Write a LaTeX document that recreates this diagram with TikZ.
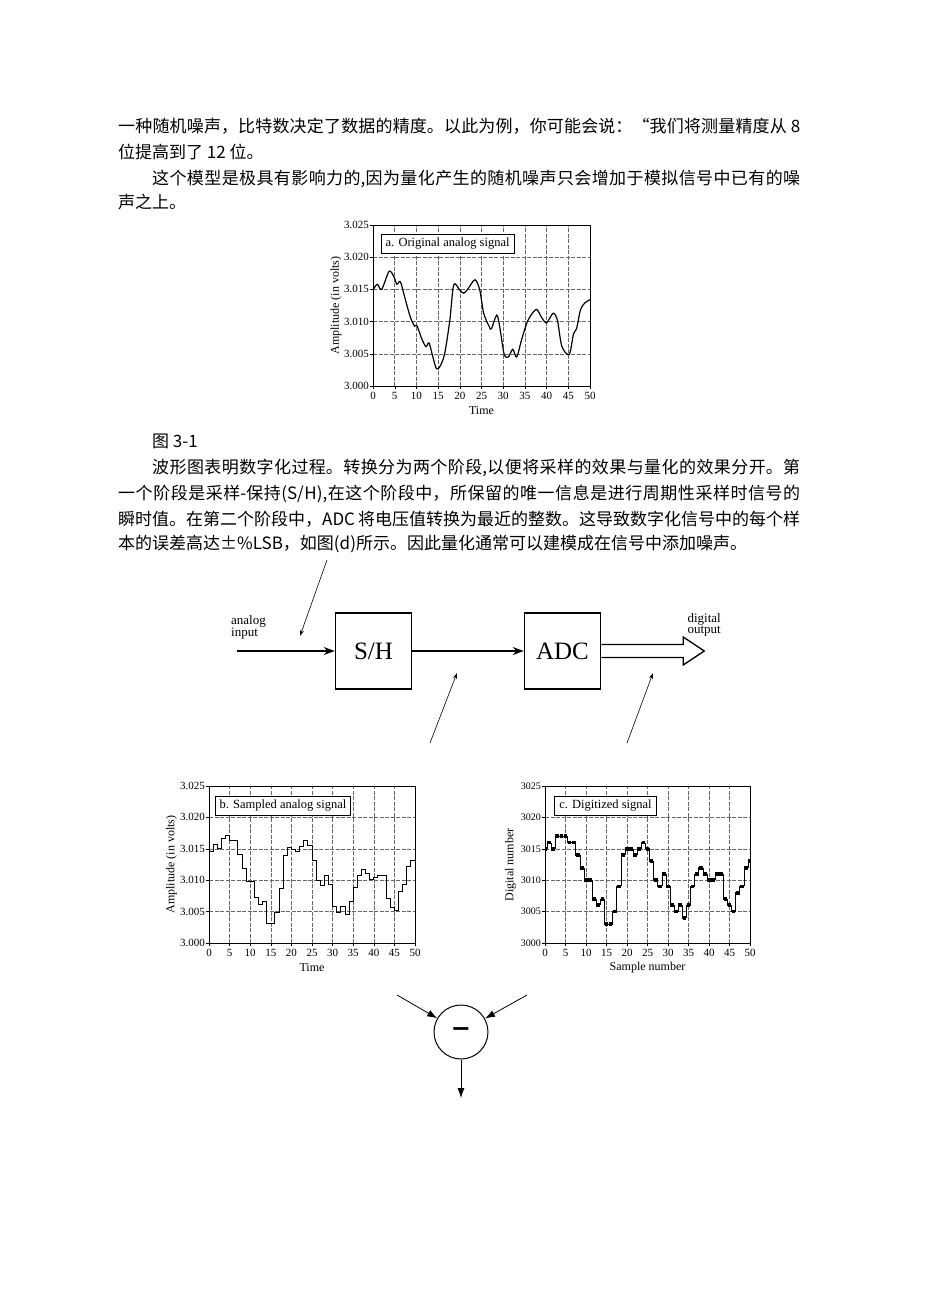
\documentclass[tikz,border=0pt]{standalone}
\usepackage{fontspec}
\setmainfont{Liberation Serif}
\newfontfamily\cjk{Noto Sans CJK SC}
\newfontfamily\symfont{DejaVu Sans}
\usetikzlibrary{arrows.meta}
\XeTeXlinebreaklocale "zh"
\XeTeXlinebreakskip=0pt plus 4pt
% riga giustificata a larghezza fissa
\newcommand\zhrow[2]{\parbox{#1}{\parfillskip=0pt\relax #2}}

\begin{document}
\begin{tikzpicture}[x=1pt, y=-1pt,
  zh/.style={anchor=west, inner sep=0pt, font=\cjk\fontsize{17}{20}\selectfont},
  tick/.style={inner sep=0pt, font=\fontsize{11}{11}\selectfont},
  lab/.style={font=\fontsize{12}{12}\selectfont},
  gridline/.style={black!60, line width=0.55pt, dash pattern=on 4pt off 1.5pt},
  legend/.style={draw, fill=white, line width=0.7pt, anchor=west, inner xsep=4.5pt, inner ysep=4pt, font=\fontsize{12.5}{12.5}\selectfont},
  blk/.style={draw, line width=1.5pt, minimum width=76pt, minimum height=76pt, font=\fontsize{25}{25}\selectfont},
  flow/.style={line width=1.3pt, -{Stealth[length=11pt, width=8pt]}},
  hint/.style={line width=0.6pt, -{Stealth[length=6pt, width=4pt]}},
  sumarrow/.style={line width=0.8pt, -{Latex[length=10pt, width=7pt]}}]

\useasboundingbox (0,0) rectangle (926,1310);
\fill[white] (0,0) rectangle (926,1310);

%% --- testo sopra ---
\node[zh] (t1) at (118,126.7) {\zhrow{682pt}{一种随机噪声，比特数决定了数据的精度。以此为例，你可能会说：“我们将测量精度从 8}};
\node[zh] (t2) at (118,151.7) {位提高到了 12 位。};
\node[zh] (t3) at (152,179) {\zhrow{648pt}{这个模型是极具有影响力的,因为量化产生的随机噪声只会增加于模拟信号中已有的噪}};
\node[zh] (t4) at (118,201.7) {声之上。};

%% --- a. segnale analogico ---
\begin{scope}[shift={(373,386)}, x=4.34pt, y=6.44pt]
\foreach \t in {5,10,...,45} \draw[gridline] (\t,0) -- (\t,25);
\foreach \v in {5,10,15,20} \draw[gridline] (0,\v) -- (50,\v);
\draw[line width=1.2pt] plot[smooth, tension=0.5] coordinates {(0,14.9) (1,15.8) (2,15.0) (3.7,17.8) (4.8,17.0) (5.5,15.8) (6.3,16.2) (7.3,13.8) (8.6,10.7) (9.6,9.3) (10.1,9.4) (11.2,7.4) (12.2,6.1) (12.9,6.7) (13.8,4.5) (14.6,2.7) (15.4,3.0) (16.5,5.0) (17.7,10.2) (18.6,15.7) (20,14.9) (20.9,14.4) (21.9,15.1) (23.5,16.5) (24.6,14.9) (25.5,11.3) (26.8,9.2) (27.3,8.9) (28.5,11.0) (29.2,9.2) (30.2,5.0) (31.2,4.5) (32.2,5.7) (33.1,4.5) (34.2,7.1) (35.4,9.7) (36.4,11.0) (37.7,11.9) (38.8,10.7) (40,9.8) (41.5,11.3) (42.5,10.2) (43.5,6.2) (45.2,4.9) (46.2,8.1) (46.9,8.9) (47.8,11.8) (48.8,12.9) (50,13.4)};
\node[legend] (aleg) at (1.8,22.1) {a. Original analog signal};
\draw[line width=0.8pt] (0,0) rectangle (50,25);
\foreach \t in {0,5,...,50} {
    \draw (\t,0) -- (\t,-0.45);
    \node[tick, below=6pt] (ax\t) at (\t,0) {\t};
}
\foreach \v/\l in {0/3.000,5/3.005,10/3.010,15/3.015,20/3.020,25/3.025} {
    \draw (0,\v) -- (-0.7,\v);
    \node[tick, left=4pt] (ay\v) at (0,\v) {\l};
}
\node[lab] (atime) at (25,-3.8) {Time};
\node[lab, rotate=90] (aamp) at (-8.5,12.5) {Amplitude (in volts)};
\end{scope}

%% --- testo in mezzo ---
\node[zh] (cap) at (152,441.5) {图 3-1};
\node[zh] (t5) at (152,468) {\zhrow{648pt}{波形图表明数字化过程。转换分为两个阶段,以便将采样的效果与量化的效果分开。第}};
\node[zh] (t6) at (118,494) {\zhrow{682pt}{一个阶段是采样-保持(S/H),在这个阶段中，所保留的唯一信息是进行周期性采样时信号的}};
\node[zh] (t7) at (118,519) {\zhrow{682pt}{瞬时值。在第二个阶段中，ADC 将电压值转换为最近的整数。这导致数字化信号中的每个样}};
\node[zh] (t8) at (118,544) {本的误差高达±\%LSB，如图(d)所示。因此量化通常可以建模成在信号中添加噪声。};

%% --- schema a blocchi ---
\node[blk] (sh) at (373.5,651) {S/H};
\node[blk] (adc) at (562.5,651) {ADC};
\coordinate (in) at (237,651);
\draw[flow] (in) -- (sh);
\draw[flow] (sh) -- (adc);
\draw[line width=1.3pt, fill=white] ([yshift=6.5pt]adc.east) -- ([xshift=82pt, yshift=6.5pt]adc.east)
    -- ([xshift=82pt, yshift=14pt]adc.east) -- ([xshift=103pt]adc.east)
    -- ([xshift=82pt, yshift=-14pt]adc.east) -- ([xshift=82pt, yshift=-6.5pt]adc.east)
    -- ([yshift=-6.5pt]adc.east);
\node[align=left, anchor=north west, inner sep=0pt, font=\fontsize{13}{10.5}\selectfont] (ain) at (231,615) {analog\\input};
\node[align=right, anchor=east, inner sep=0pt, font=\fontsize{13}{10.5}\selectfont] (dout) at (721,625) {digital\\output};

\coordinate (h1s) at (327,560); \coordinate (h1e) at (300,636);
\coordinate (h2s) at (430,743); \coordinate (h2e) at (457,673);
\coordinate (h3s) at (627,743); \coordinate (h3e) at (653,673);
\draw[hint] (h1s) -- (h1e);
\draw[hint] (h2s) -- (h2e);
\draw[hint] (h3s) -- (h3e);

%% --- b. segnale campionato ---
\begin{scope}[shift={(209,943)}, x=4.12pt, y=6.28pt]
\foreach \t in {5,10,...,45} \draw[gridline] (\t,0) -- (\t,25);
\foreach \v in {5,10,15,20} \draw[gridline] (0,\v) -- (50,\v);
\draw[line width=0.9pt] plot[const plot] coordinates {(0,14.6) (1,15.7) (2,15.1) (3,16.6) (4,17.2) (5,16.3) (6,16.3) (7,14.1) (8,11.9) (9,9.8) (10,9.8) (11,7.3) (12,6.1) (13,6.6) (14,3.1) (15,3.1) (16,4.8) (17,8.7) (18,14.0) (19,15.2) (20,14.9) (21,14.6) (22,15.4) (23,16.4) (24,15.6) (25,13.1) (26,9.9) (27,9.2) (28,10.7) (29,9.3) (30,5.9) (31,4.8) (32,5.8) (33,4.6) (34,6.6) (35,8.8) (36,10.7) (37,11.7) (38,11.0) (39,10.1) (40,10.4) (41,10.8) (42,10.8) (43,7.1) (44,5.7) (45,5.2) (46,8.2) (47,9.4) (48,12.2) (49,13.2) (50,13.3)};
\node[legend] (bleg) at (1.4,21.85) {b. Sampled analog signal};
\draw[line width=0.8pt] (0,0) rectangle (50,25);
\foreach \t in {0,5,...,50} {
    \draw (\t,0) -- (\t,-0.45);
    \node[tick, below=6pt] (bx\t) at (\t,0) {\t};
}
\foreach \v/\l in {0/3.000,5/3.005,10/3.010,15/3.015,20/3.020,25/3.025} {
    \draw (0,\v) -- (-0.7,\v);
    \node[tick, left=4pt] (by\v) at (0,\v) {\l};
}
\node[lab] (btime) at (25,-3.9) {Time};
\node[lab, rotate=90] (bamp) at (-9.1,12.5) {Amplitude (in volts)};
\end{scope}

%% --- c. segnale digitalizzato ---
\begin{scope}[shift={(545,943)}, x=4.1pt, y=6.28pt]
\foreach \t in {5,10,...,45} \draw[gridline] (\t,0) -- (\t,25);
\foreach \v in {5,10,15,20} \draw[gridline] (0,\v) -- (50,\v);
\begin{scope}
\clip (0,0) rectangle (50,25);
\foreach \v [count=\n from 0, remember=\v as \pv (initially 15)] in {15,16,15,17,17,17,16,16,14,12,10,10,7,6,7,3,3,5,9,14,15,15,14,15,16,15,13,10,9,11,9,6,5,6,4,6,9,11,12,11,10,10,11,11,7,6,5,8,9,12,13} {
    \draw[line width=0.7pt] (\n-0.5,\pv) -- (\n-0.5,\v) -- (\n+0.5,\v);
    \fill (\n-0.45,\v-0.3) rectangle (\n+0.45,\v+0.3);
}
\end{scope}
\node[legend] (cleg) at (2.3,21.85) {c. Digitized signal};
\draw[line width=0.8pt] (0,0) rectangle (50,25);
\foreach \t in {0,5,...,50} {
    \draw (\t,0) -- (\t,-0.45);
    \node[tick, below=6pt] (cx\t) at (\t,0) {\t};
}
\foreach \v/\l in {0/3000,5/3005,10/3010,15/3015,20/3020,25/3025} {
    \draw (0,\v) -- (-0.7,\v);
    \node[tick, left=4pt, font=\fontsize{10}{10}\selectfont] (cy\v) at (0,\v) {\l};
}
\node[lab] (cnum) at (25,-3.9) {Sample number};
\node[lab, rotate=90] (cdig) at (-8.4,12.4) {Digital number};
\end{scope}

%% --- sottrattore ---
\node[circle, draw, line width=1pt, minimum size=54pt, inner sep=0pt, font=\symfont\bfseries\fontsize{24}{24}\selectfont] (sub) at (461,1032) {−};
\coordinate (sl) at (397,995);
\coordinate (sr) at (527,995);
\coordinate (sd) at (461,1098);
\draw[sumarrow] (sl) -- (sub);
\draw[sumarrow] (sr) -- (sub);
\draw[sumarrow] (sub) -- (sd);

\end{tikzpicture}
\end{document}
